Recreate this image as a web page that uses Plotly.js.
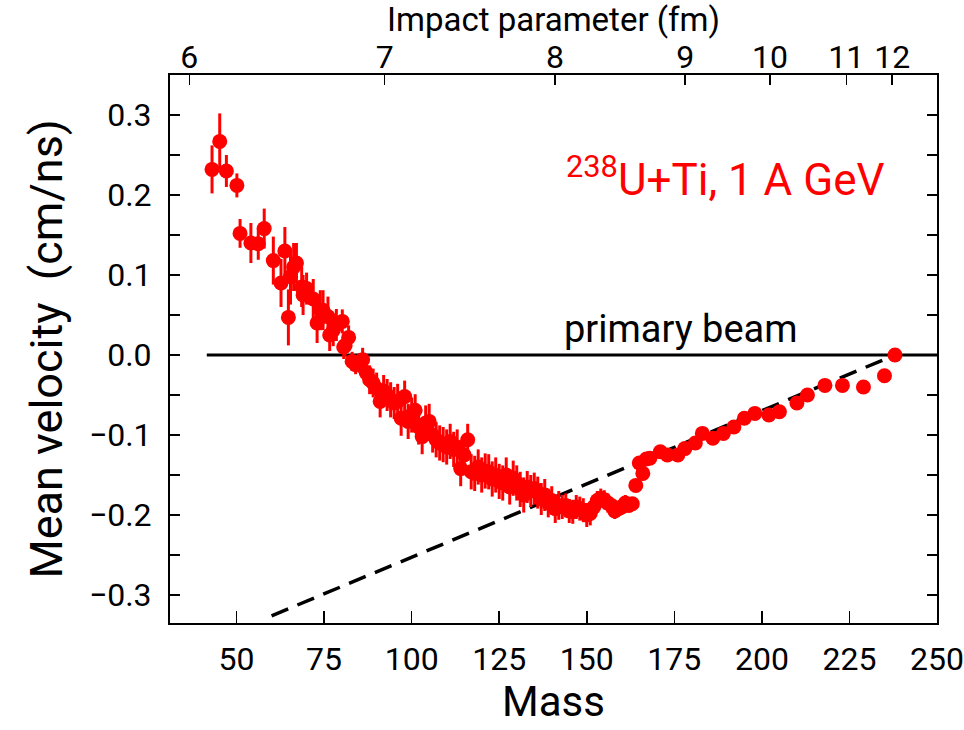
<!DOCTYPE html>
<html><head><meta charset="utf-8">
<script src="https://cdn.plot.ly/plotly-3.0.1.min.js"></script>
<style>body{margin:0;background:#fff}#chart{width:964px;height:730px}</style>
</head><body><div id="chart"></div>
<script>
// Measured fragments: mass, mean velocity (cm/ns), error
const mass = [43,45.2,47.1,50.1,51,54.1,56.2,57.9,60.5,62.7,63.8,64.8,65.4,66.3,67.1,68.6,69,70,71.9,73,73.9,74.7,76.1,76.6,77.6,78.5,80.2,80.6,
81,82,83,84,85,86,87,88,89,90,91,92,93,94,95,96,97,98,99,100,101,102,103,104,105,106,107,108,109,110,111,112,113,114,115,116,117,118,119,120,
121,122,123,124,125,126,127,128,129,130,131,132,133,134,135,136,137,138,139,140,141,142,143,144,145,146,147,148,149,150,151,152,153,154,155,156,157,158,159,160,161,162,163,
164,165,166,167,168,171,173,176,178,181,183,186,189,192,195,198,202,205,210,213,218,223,229,235,238];
const velocity = [0.232,0.267,0.230,0.212,0.152,0.140,0.139,0.158,0.118,0.090,0.130,0.047,0.098,0.110,0.115,0.085,0.075,0.083,0.070,0.040,0.056,0.056,0.048,0.025,0.031,0.0375,0.042,0.010,
0.012,0.022,-0.008,-0.012,-0.010,-0.006,-0.022,-0.031,-0.035,-0.042,-0.058,-0.045,-0.050,-0.056,-0.060,-0.058,-0.079,-0.052,-0.083,-0.075,-0.069,-0.090,-0.102,-0.085,-0.083,-0.100,-0.106,-0.110,-0.112,-0.115,-0.108,-0.118,-0.115,-0.142,-0.125,-0.106,-0.146,-0.148,-0.140,-0.150,
-0.145,-0.146,-0.155,-0.150,-0.158,-0.160,-0.150,-0.165,-0.154,-0.160,-0.168,-0.175,-0.165,-0.170,-0.167,-0.172,-0.180,-0.175,-0.185,-0.182,-0.192,-0.188,-0.190,-0.188,-0.195,-0.196,-0.190,-0.192,-0.194,-0.200,-0.198,-0.190,-0.182,-0.179,-0.181,-0.185,-0.188,-0.195,-0.192,-0.190,-0.185,-0.188,-0.186,
-0.163,-0.135,-0.148,-0.130,-0.129,-0.121,-0.125,-0.125,-0.117,-0.110,-0.098,-0.104,-0.098,-0.090,-0.079,-0.073,-0.075,-0.071,-0.060,-0.050,-0.038,-0.038,-0.040,-0.026,0.000];
const velocityErr = [0.030,0.035,0.020,0.015,0.018,0.025,0.020,0.025,0.030,0.030,0.030,0.035,0.035,0.030,0.025,0.025,0.025,0.020,0.025,0.025,0.025,0.025,0.025,0.020,0.020,0.020,0.015,0.015,
0.015,0.015,0.012,0.012,0.012,0.015,0.015,0.018,0.018,0.020,0.020,0.020,0.020,0.022,0.020,0.022,0.022,0.020,0.022,0.022,0.020,0.022,0.022,0.022,0.022,0.022,0.022,0.022,0.022,0.022,0.022,0.022,0.022,0.022,0.022,0.020,0.022,0.022,0.022,0.022,
0.022,0.022,0.022,0.022,0.022,0.022,0.022,0.022,0.022,0.022,0.022,0.022,0.020,0.020,0.020,0.020,0.020,0.020,0.018,0.018,0.018,0.018,0.015,0.015,0.015,0.015,0.015,0.015,0.015,0.015,0.015,0.012,0.012,0.012,0.012,0.012,0.010,0.010,0.010,0.010,0.010,0.008,0.008,
0.006,0.005,0.005,0.005,0.005,0.004,0.004,0.004,0.004,0.004,0.004,0.004,0.004,0.004,0.004,0.004,0.004,0.004,0.004,0.004,0.004,0.004,0.004,0.004,0.004];
// reference lines
const beamMass = [41.5, 250];
const beamVel = [0, 0];
const dashMass = [60, 238];
const dashVel = [-0.326, 0];
// top axis: impact parameter (fm) ticks and their mass positions
const impactLabels = ['6','7','8','9','10','11','12'];
const impactMass = [36.5, 92.3, 140.9, 178.1, 202.3, 224.1, 237.2];

const FONT = 'Roboto, "Liberation Sans", sans-serif';

const traces = [
  {x: beamMass, y: beamVel, mode: 'lines', line: {color: '#000', width: 3}, hoverinfo: 'skip', showlegend: false},
  {x: dashMass, y: dashVel, mode: 'lines', line: {color: '#000', width: 3.5, dash: '18px,10px'}, hoverinfo: 'skip', showlegend: false},
  {x: mass, y: velocity, mode: 'markers', type: 'scatter',
   marker: {color: '#ff0000', size: 15},
   error_y: {type: 'data', array: velocityErr, visible: true, color: '#ff0000', thickness: 3, width: 0},
   showlegend: false},
  {x: impactMass, y: impactMass.map(() => 1), xaxis: 'x2', mode: 'markers', marker: {opacity: 0}, hoverinfo: 'skip', showlegend: false}
];

const layout = {
  width: 964, height: 730,
  margin: {l: 170, r: 27, t: 75, b: 107},
  paper_bgcolor: '#fff', plot_bgcolor: '#fff',
  font: {family: FONT, color: '#000'},
  xaxis: {
    range: [31, 250], tickvals: [50,75,100,125,150,175,200,225,250],
    ticks: 'inside', ticklen: 12, tickwidth: 1.5, tickcolor: '#000',
    showline: true, linecolor: '#000', linewidth: 2, mirror: false,
    showgrid: false, zeroline: false,
    tickfont: {size: 32, family: FONT}, ticklabelstandoff: 7
  },
  xaxis2: {
    overlaying: 'x', side: 'top', range: [31, 250],
    tickvals: impactMass, ticktext: impactLabels,
    ticks: 'inside', ticklen: 10, tickwidth: 1.5, tickcolor: '#000',
    showline: true, linecolor: '#000', linewidth: 2,
    showgrid: false, zeroline: false,
    tickfont: {size: 32, family: FONT}, ticklabelstandoff: -8,
    title: {text: 'Impact parameter (fm)', font: {size: 33, family: FONT}, standoff: 2}
  },
  yaxis: {
    range: [-0.335, 0.35], dtick: 0.1, tick0: 0, tickformat: '.1f',
    ticks: 'inside', ticklen: 10, tickwidth: 1.5, tickcolor: '#000',
    minor: {dtick: 0.05, ticks: 'inside', ticklen: 10, tickwidth: 1.5, tickcolor: '#000', showgrid: false},
    showline: true, linecolor: '#000', linewidth: 2, mirror: 'ticks',
    showgrid: false, zeroline: false,
    tickfont: {size: 32, family: FONT}, ticklabelstandoff: 10,
    title: {text: 'Mean velocity  (cm/ns)', font: {size: 45, family: FONT}, standoff: 12}
  },
  annotations: [
    {x: 0.5, y: -0.192, xref: 'paper', yref: 'paper', xanchor: 'center', yanchor: 'bottom', showarrow: false,
     text: 'Mass', font: {size: 42, color: '#000', family: FONT}},
    {x: 143.5, y: 0.222, xref: 'x', yref: 'y', xanchor: 'left', yanchor: 'middle', showarrow: false,
     text: '<sup>238</sup>U+Ti, 1 A GeV', font: {size: 44, color: '#ff0000', family: FONT}},
    {x: 177, y: 0.032, xref: 'x', yref: 'y', xanchor: 'center', yanchor: 'middle', showarrow: false,
     text: 'primary beam', font: {size: 38, color: '#000', family: FONT}}
  ]
};

Plotly.newPlot('chart', traces, layout, {displayModeBar: false, staticPlot: true});
</script></body></html>
